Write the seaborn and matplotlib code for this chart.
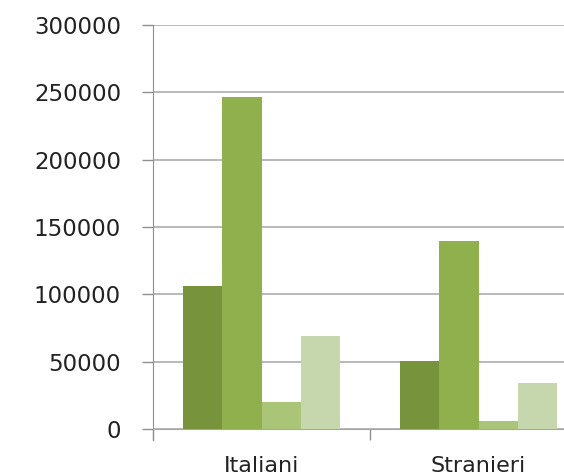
import pandas as pd
import numpy as np
import matplotlib.pyplot as plt
import seaborn as sns

# Data
categories = ["Italiani", "Stranieri"]
series = ["Serie 1", "Serie 2", "Serie 3", "Serie 4"]
italiani = [106000, 246500, 20000, 69000]
stranieri = [50500, 139500, 6000, 34000]
colors = ["#77933C", "#8FB04D", "#AAC478", "#C7D7AD"]

df = pd.DataFrame({
    "Categoria": [categories[0]] * 4 + [categories[1]] * 4,
    "Serie": series * 2,
    "Valore": italiani + stranieri,
})

sns.set_style("white")
plt.rcParams["font.family"] = ["DejaVu Sans"]

fig = plt.figure(figsize=(5.64, 4.76), dpi=100)
ax = fig.add_axes([153 / 564, 47 / 476, 411 / 564, 404 / 476])

sns.barplot(data=df, x="Categoria", y="Valore", hue="Serie", palette=colors,
            width=0.72, gap=0, saturation=1, linewidth=0, legend=False, ax=ax, zorder=3)

ax.set_yticks(np.arange(0, 300001, 50000))
ax.set_yticklabels([str(v) for v in range(0, 300001, 50000)])
ax.yaxis.grid(True, color="#A6A6A6", linewidth=1.1, zorder=0)
ax.set_axisbelow(True)

# category separators on the x axis
ax.set_xticks([-0.5, 0.5, 1.5], minor=True)
ax.tick_params(axis="x", which="minor", bottom=True, length=8, width=1, color="#909090", direction="out")
ax.tick_params(axis="x", which="major", bottom=True, length=0, pad=19.5, labelsize=16, labelcolor="#222222")
ax.tick_params(axis="y", left=True, length=8, width=1, color="#909090", direction="out", pad=15,
               labelsize=16.5, labelcolor="#222222")

ax.set_xlim(-0.5, -0.5 + 411 / 217)
ax.set_ylim(0, 300000)

for s in ["top", "right"]:
    ax.spines[s].set_visible(False)
ax.spines["left"].set_color("#909090")
ax.spines["bottom"].set_color("#A6A6A6")
ax.spines["left"].set_bounds(-8000, 300000)

ax.set_xlabel("")
ax.set_ylabel("")

fig.savefig("out.png", dpi=100)
